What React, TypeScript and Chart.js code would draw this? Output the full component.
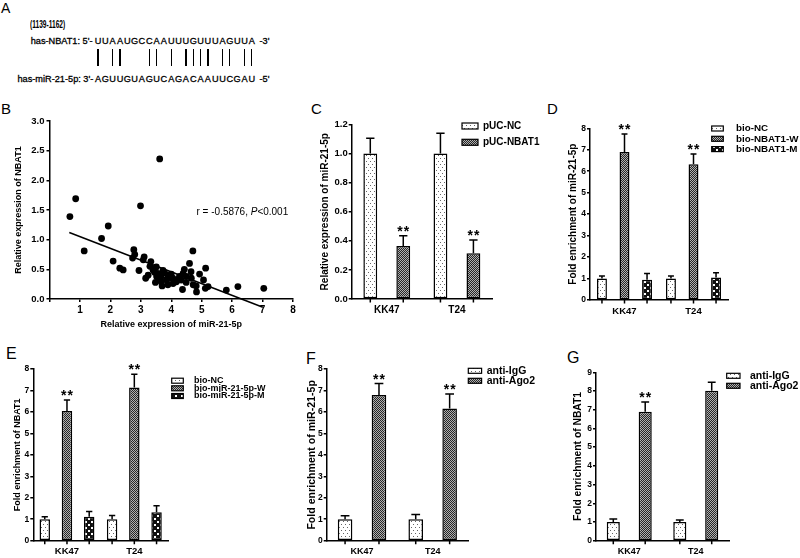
import React, { useEffect, useRef } from 'react';
import { Chart, registerables } from 'chart.js';
Chart.register(...registerables);

const FONT = '"Liberation Sans", Arial, Helvetica, sans-serif';

// ---------- Panel A (sequence pairing) ----------
const seqRange = '(1139-1162)';
const nbatName = "has-NBAT1: 5'-";
const nbatSeq = 'UUAAUGCCAAUUUGUUUAGUUA';
const nbatEnd = "-3'";
const mirName = "has-miR-21-5p: 3'-";
const mirSeq = 'AGUUGUAGUCAGACAAUUCGAU';
const mirEnd = "-5'";

// ---------- Panel B (correlation scatter) ----------
const scatterX = [0.67, 0.86, 1.14, 1.71, 1.93, 2.09, 2.31, 2.42, 2.99, 2.94, 3.62, 2.77, 2.8, 2.73, 3.11, 3.08, 3.33, 3.16, 3.24, 3.4, 3.51, 3.45, 3.56, 3.6, 3.67, 3.67, 3.73, 3.78, 3.84, 3.9, 3.89, 3.95, 4.05, 4.06, 4.16, 4.17, 4.27, 4.33, 4.39, 4.43, 4.37, 4.49, 4.5, 4.6, 4.71, 4.65, 4.66, 4.72, 4.83, 4.82, 4.93, 5.06, 5.13, 5.12, 5.21, 5.81, 6.19, 7.04, 3.3, 3.52, 3.7, 4.0, 3.48];
const scatterY = [1.39, 1.69, 0.81, 1.02, 1.23, 0.64, 0.52, 0.49, 1.57, 0.48, 2.36, 0.83, 0.75, 0.69, 0.71, 0.66, 0.63, 0.35, 0.4, 0.49, 0.54, 0.45, 0.43, 0.33, 0.38, 0.29, 0.48, 0.44, 0.32, 0.4, 0.24, 0.35, 0.35, 0.26, 0.32, 0.29, 0.38, 0.32, 0.43, 0.5, 0.16, 0.28, 0.38, 0.6, 0.81, 0.46, 0.35, 0.24, 0.12, 0.22, 0.42, 0.32, 0.52, 0.18, 0.21, 0.15, 0.21, 0.18, 0.55, 0.38, 0.22, 0.42, 0.28];
const fitX = [0.65, 7.01];
const fitY = [1.12, -0.14];
const corrParts = ['r = -0.5876, ', 'P', '<0.001'];
const corrAt = [4.83, 1.47];
const bXTitle = 'Relative expression of miR-21-5p';
const bYTitle = 'Relative expression of NBAT1';

// ---------- shared categories ----------
const cells = ['KK47', 'T24'];

// ---------- Panel C ----------
const cNames = ['pUC-NC', 'pUC-NBAT1'];
const cNC = [1.0, 1.0];
const cNCErr = [0.105, 0.14];
const cNBAT1 = [0.365, 0.315];
const cNBAT1Err = [0.07, 0.09];
const cNBAT1Sig = ['**', '**'];

// ---------- Panel D ----------
const dNames = ['bio-NC', 'bio-NBAT1-W', 'bio-NBAT1-M'];
const dNC = [1.0, 1.0];
const dNCErr = [0.12, 0.12];
const dW = [6.9, 6.33];
const dWErr = [0.83, 0.47];
const dM = [0.94, 1.05];
const dMErr = [0.29, 0.22];
const dWSig = ['**', '**'];

// ---------- Panel E ----------
const eNames = ['bio-NC', 'bio-miR-21-5p-W', 'bio-miR-21-5p-M'];
const eNC = [1.0, 1.0];
const eNCErr = [0.12, 0.17];
const eW = [6.04, 7.14];
const eWErr = [0.51, 0.61];
const eM = [1.12, 1.32];
const eMErr = [0.24, 0.31];
const eWSig = ['**', '**'];

// ---------- Panel F ----------
const fNames = ['anti-IgG', 'anti-Ago2'];
const fIgG = [1.0, 1.0];
const fIgGErr = [0.16, 0.22];
const fAgo = [6.79, 6.16];
const fAgoErr = [0.53, 0.68];
const fAgoSig = ['**', '**'];

// ---------- Panel G ----------
const gNames = ['anti-IgG', 'anti-Ago2'];
const gIgG = [1.0, 1.0];
const gIgGErr = [0.16, 0.11];
const gAgo = [6.89, 8.02];
const gAgoErr = [0.52, 0.45];
const gAgoSig = ['**', ''];

const none = ['', ''];

// ---------- patterns ----------
function makePattern(kind: string): any {
  const c = document.createElement('canvas');
  const x = c.getContext('2d')!;
  if (kind === 'dots') {
    c.width = 8; c.height = 6;
    x.fillStyle = '#fff'; x.fillRect(0, 0, 8, 6);
    x.fillStyle = '#666';
    x.fillRect(1, 1, 1, 1); x.fillRect(5, 1, 1, 1); x.fillRect(3, 4, 1, 1); x.fillRect(7, 4, 1, 1);
  } else if (kind === 'mesh') {
    c.width = 2; c.height = 2;
    x.fillStyle = '#b0b0b0'; x.fillRect(0, 0, 2, 2);
    x.fillStyle = '#262626'; x.fillRect(0, 0, 1, 1); x.fillRect(1, 1, 1, 1);
  } else {
    c.width = 6; c.height = 6;
    x.fillStyle = '#111'; x.fillRect(0, 0, 6, 6);
    x.fillStyle = '#fff'; x.fillRect(1, 1, 2, 2); x.fillRect(4, 4, 2, 2);
  }
  return x.createPattern(c, 'repeat');
}

// ---------- geometry helper ----------
type Geo = { cx: number; cy: number; cw: number; ch: number; L: number; R: number; T: number; B: number; titleX: number; titleSize: number; xH: number };
function layoutFor(g: Geo) {
  const lh = g.titleSize * 1.2;
  const scaleLeft = g.titleX - lh / 2;
  return {
    yW: g.L - scaleLeft,
    padding: { left: scaleLeft - g.cx, top: g.T - g.cy, right: g.cx + g.cw - g.R, bottom: g.cy + g.ch - g.B - g.xH },
  };
}

// ---------- plugins ----------
function errorBarPlugin(sigSize: number, capFrac: number) {
  return {
    id: 'errorBars',
    afterDatasetsDraw(chart: any) {
      const ctx = chart.ctx;
      const ys = chart.scales.y;
      const base = ys.getPixelForValue(0);
      chart.data.datasets.forEach((ds: any, di: number) => {
        const meta = chart.getDatasetMeta(di);
        meta.data.forEach((bar: any, i: number) => {
          const top = ys.getPixelForValue(ds.data[i] + ds.errors[i]);
          const cap = (bar.width * capFrac) / 2;
          ctx.save();
          ctx.strokeStyle = '#000';
          ctx.lineWidth = 1.5;
          ctx.beginPath();
          ctx.moveTo(bar.x, bar.y);
          ctx.lineTo(bar.x, top);
          ctx.moveTo(bar.x - cap, top);
          ctx.lineTo(bar.x + cap, top);
          ctx.moveTo(bar.x, base);
          ctx.lineTo(bar.x, base + 3.5);
          ctx.stroke();
          if (ds.sig && ds.sig[i]) {
            ctx.fillStyle = '#000';
            ctx.font = `bold ${sigSize}px ${FONT}`;
            ctx.textAlign = 'center';
            ctx.textBaseline = 'alphabetic';
            try { (ctx as any).letterSpacing = '1px'; } catch (e) {}
            ctx.fillText(ds.sig[i], bar.x + 0.5, top);
          }
          ctx.restore();
        });
      });
    },
  };
}

type LegendSpec = { boxX: number; boxW: number; boxH: number; textX: number; rows: number[]; size: number };
function legendPlugin(spec: LegendSpec, ox: number, oy: number) {
  return {
    id: 'patternLegend',
    afterDraw(chart: any) {
      const ctx = chart.ctx;
      chart.data.datasets.forEach((ds: any, i: number) => {
        const cy = spec.rows[i] - oy;
        const bx = spec.boxX - ox;
        ctx.save();
        ctx.fillStyle = ds.backgroundColor;
        ctx.fillRect(bx, cy - spec.boxH / 2, spec.boxW, spec.boxH);
        ctx.strokeStyle = '#000';
        ctx.lineWidth = 1.2;
        ctx.strokeRect(bx, cy - spec.boxH / 2, spec.boxW, spec.boxH);
        ctx.fillStyle = '#000';
        ctx.font = `bold ${spec.size}px ${FONT}`;
        ctx.textAlign = 'left';
        ctx.textBaseline = 'middle';
        ctx.fillText(ds.label, spec.textX - ox, cy);
        ctx.restore();
      });
    },
  };
}

const corrPlugin = {
  id: 'corrText',
  afterDraw(chart: any) {
    const ctx = chart.ctx;
    let x = chart.scales.x.getPixelForValue(corrAt[0]);
    const y = chart.scales.y.getPixelForValue(corrAt[1]);
    ctx.save();
    ctx.fillStyle = '#000';
    ctx.textAlign = 'left';
    ctx.textBaseline = 'middle';
    corrParts.forEach((t, i) => {
      ctx.font = `${i === 1 ? 'italic ' : ''}10px ${FONT}`;
      ctx.fillText(t, x, y);
      x += ctx.measureText(t).width;
    });
    ctx.restore();
  },
};

// ---------- configs ----------
type Series = { name: string; mean: number[]; err: number[]; sig: string[]; fill: string };
type BarSpec = {
  geo: Geo; series: Series[]; yMax: number; yStep: number; decimals: number; yTitle: string;
  tickSize: number; tickPad: number; xSize: number; cp: number; bp: number; legend: LegendSpec; sigSize: number;
};

function yAxis(title: string, titleSize: number, tickSize: number, tickPad: number, max: number, step: number, decimals: number, yW: number) {
  return {
    type: 'linear',
    min: 0,
    max,
    ticks: {
      stepSize: step,
      color: '#000',
      padding: tickPad,
      font: { family: FONT, size: tickSize, weight: 'bold' },
      callback: (v: any) => Number(v).toFixed(decimals),
    },
    grid: { drawOnChartArea: false, drawTicks: true, tickLength: 3, color: '#000', lineWidth: 1.5 },
    border: { color: '#000', width: 1.5 },
    title: { display: true, text: title, color: '#000', padding: 0, font: { family: FONT, size: titleSize, weight: 'bold' } },
    afterFit: (s: any) => { s.width = yW; },
  };
}

function makeBar(spec: BarSpec) {
  const g = spec.geo;
  const lay = layoutFor(g);
  const xLh = spec.xSize * 1.2;
  return {
    type: 'bar',
    data: {
      labels: cells,
      datasets: spec.series.map((s) => ({
        label: s.name,
        data: s.mean,
        errors: s.err,
        sig: s.sig,
        backgroundColor: makePattern(s.fill),
        borderColor: '#000',
        borderWidth: 1.5,
        borderSkipped: false,
        categoryPercentage: spec.cp,
        barPercentage: spec.bp,
      })),
    },
    options: {
      responsive: false,
      animation: false,
      devicePixelRatio: 1,
      layout: { padding: lay.padding },
      plugins: { legend: { display: false }, tooltip: { enabled: false } },
      scales: {
        x: {
          type: 'category',
          offset: true,
          grid: { display: true, drawOnChartArea: false, drawTicks: false },
          border: { display: true, color: '#000', width: 1.5 },
          ticks: { color: '#000', padding: 11 - xLh / 2, maxRotation: 0, font: { family: FONT, size: spec.xSize, weight: 'bold' } },
          afterFit: (s: any) => { s.height = g.xH; },
        },
        y: yAxis(spec.yTitle, g.titleSize, spec.tickSize, spec.tickPad, spec.yMax, spec.yStep, spec.decimals, lay.yW),
      },
    },
    plugins: [errorBarPlugin(spec.sigSize, 0.6), legendPlugin(spec.legend, g.cx, g.cy)],
  };
}

const geoB: Geo = { cx: 0, cy: 100, cw: 305, ch: 235, L: 49.5, R: 293, T: 121, B: 299, titleX: 19, titleSize: 9, xH: 31.4 };

function makeScatter() {
  const g = geoB;
  const lay = layoutFor(g);
  return {
    type: 'scatter',
    data: {
      datasets: [
        {
          label: 'fit',
          data: fitX.map((x, i) => ({ x, y: fitY[i] })),
          showLine: true,
          borderColor: '#000',
          borderWidth: 1.5,
          pointRadius: 0,
          clip: false,
        },
        {
          label: 'samples',
          data: scatterX.map((x, i) => ({ x, y: scatterY[i] })),
          pointRadius: 3.4,
          backgroundColor: '#000',
          borderColor: '#000',
          pointBorderWidth: 0,
        },
      ],
    },
    options: {
      responsive: false,
      animation: false,
      devicePixelRatio: 1,
      layout: { padding: lay.padding },
      plugins: { legend: { display: false }, tooltip: { enabled: false } },
      scales: {
        x: {
          type: 'linear',
          min: 0,
          max: 8,
          ticks: {
            stepSize: 1,
            color: '#000',
            padding: 2.5,
            font: { family: FONT, size: 10, weight: 'bold' },
            callback: (v: any) => (Number(v) === 0 ? '' : String(v)),
          },
          grid: { drawOnChartArea: false, drawTicks: true, tickLength: 3, color: '#000', lineWidth: 1.5 },
          border: { color: '#000', width: 1.5 },
          title: { display: true, text: bXTitle, color: '#000', padding: 0, font: { family: FONT, size: 9, weight: 'bold' } },
          afterFit: (s: any) => { s.height = g.xH; },
        },
        y: yAxis(bYTitle, 9, 9.5, 2, 3, 0.5, 1, lay.yW),
      },
    },
    plugins: [corrPlugin],
  };
}

const specC: BarSpec = {
  geo: { cx: 305, cy: 100, cw: 245, ch: 222, L: 351.7, R: 492, T: 124.5, B: 299, titleX: 325, titleSize: 10, xH: 22 },
  series: [
    { name: cNames[0], mean: cNC, err: cNCErr, sig: none, fill: 'dots' },
    { name: cNames[1], mean: cNBAT1, err: cNBAT1Err, sig: cNBAT1Sig, fill: 'mesh' },
  ],
  yMax: 1.2, yStep: 0.2, decimals: 1, yTitle: 'Relative expression of miR-21-5p',
  tickSize: 9.5, tickPad: 1, xSize: 10, cp: 0.94, bp: 0.42, sigSize: 14,
  legend: { boxX: 462, boxW: 16, boxH: 6, textX: 483, rows: [126, 142.3], size: 10 },
};

const specD: BarSpec = {
  geo: { cx: 553, cy: 100, cw: 247, ch: 222, L: 590, R: 728, T: 128.3, B: 300, titleX: 573, titleSize: 10, xH: 22 },
  series: [
    { name: dNames[0], mean: dNC, err: dNCErr, sig: none, fill: 'dots' },
    { name: dNames[1], mean: dW, err: dWErr, sig: dWSig, fill: 'mesh' },
    { name: dNames[2], mean: dM, err: dMErr, sig: none, fill: 'checker' },
  ],
  yMax: 8, yStep: 1, decimals: 0, yTitle: 'Fold enrichment of miR-21-5p',
  tickSize: 8.5, tickPad: 1, xSize: 9.5, cp: 0.98, bp: 0.44, sigSize: 14,
  legend: { boxX: 711.7, boxW: 11.6, boxH: 5, textX: 736, rows: [128.5, 138.8, 149.1], size: 9.8 },
};

const specE: BarSpec = {
  geo: { cx: 0, cy: 340, cw: 290, ch: 218, L: 33.3, R: 168, T: 369, B: 540.7, titleX: 18, titleSize: 9, xH: 17.3 },
  series: [
    { name: eNames[0], mean: eNC, err: eNCErr, sig: none, fill: 'dots' },
    { name: eNames[1], mean: eW, err: eWErr, sig: eWSig, fill: 'mesh' },
    { name: eNames[2], mean: eM, err: eMErr, sig: none, fill: 'checker' },
  ],
  yMax: 8, yStep: 1, decimals: 0, yTitle: 'Fold enrichment of NBAT1',
  tickSize: 8.5, tickPad: 1, xSize: 9.5, cp: 0.99, bp: 0.47, sigSize: 14,
  legend: { boxX: 171.7, boxW: 11.6, boxH: 5, textX: 194, rows: [380.7, 388.3, 396], size: 9 },
};

const specF: BarSpec = {
  geo: { cx: 290, cy: 340, cw: 265, ch: 218, L: 326.7, R: 468, T: 369, B: 540.7, titleX: 312.5, titleSize: 10.6, xH: 17.3 },
  series: [
    { name: fNames[0], mean: fIgG, err: fIgGErr, sig: none, fill: 'dots' },
    { name: fNames[1], mean: fAgo, err: fAgoErr, sig: fAgoSig, fill: 'mesh' },
  ],
  yMax: 8, yStep: 1, decimals: 0, yTitle: 'Fold enrichment of miR-21-5p',
  tickSize: 8.5, tickPad: 1, xSize: 9, cp: 0.96, bp: 0.43, sigSize: 14,
  legend: { boxX: 468.3, boxW: 13.3, boxH: 5, textX: 486.7, rows: [370.8, 380.8], size: 10.5 },
};

const specG: BarSpec = {
  geo: { cx: 555, cy: 340, cw: 245, ch: 218, L: 596, R: 729, T: 372.3, B: 540.7, titleX: 578, titleSize: 10.3, xH: 17.3 },
  series: [
    { name: gNames[0], mean: gIgG, err: gIgGErr, sig: none, fill: 'dots' },
    { name: gNames[1], mean: gAgo, err: gAgoErr, sig: gAgoSig, fill: 'mesh' },
  ],
  yMax: 9, yStep: 1, decimals: 0, yTitle: 'Fold enrichment of NBAT1',
  tickSize: 8.5, tickPad: 1, xSize: 9, cp: 0.96, bp: 0.41, sigSize: 14,
  legend: { boxX: 726.7, boxW: 13.3, boxH: 5, textX: 750, rows: [375.8, 385.8], size: 10.5 },
};

// ---------- components ----------
function ChartBox({ geo, make }: { geo: Geo; make: () => any }) {
  const ref = useRef<HTMLCanvasElement>(null);
  useEffect(() => {
    const chart = new Chart(ref.current as any, make());
    return () => chart.destroy();
  }, []);
  return (
    <canvas
      ref={ref}
      width={geo.cw}
      height={geo.ch}
      style={{ position: 'absolute', left: geo.cx, top: geo.cy, width: geo.cw, height: geo.ch }}
    />
  );
}

const CELL = 7.33;
const SEQ_LEFT = 94.3;
const isPair = (a: string, b: string) =>
  (a === 'A' && b === 'U') || (a === 'U' && b === 'A') || (a === 'G' && b === 'C') || (a === 'C' && b === 'G');

const seqText: any = { position: 'absolute', fontSize: 9.2, lineHeight: '9px', whiteSpace: 'nowrap', WebkitTextStroke: '0.3px #000' };

function SeqCells({ seq, top }: { seq: string; top: number }) {
  return (
    <div style={{ ...seqText, left: SEQ_LEFT, top, display: 'flex' }}>
      {seq.split('').map((c, i) => (
        <span key={i} style={{ width: CELL, textAlign: 'center', display: 'inline-block' }}>{c}</span>
      ))}
    </div>
  );
}

function PanelA() {
  return (
    <>
      <div style={{ ...seqText, left: 30, top: 20, fontSize: 10, lineHeight: '10px', fontWeight: 'bold', WebkitTextStroke: '0px', transform: 'scaleX(0.66)', transformOrigin: 'left top' }}>{seqRange}</div>
      <div style={{ ...seqText, left: 0, width: 92.5, textAlign: 'right', top: 37.3 }}>{nbatName}</div>
      <SeqCells seq={nbatSeq} top={37.3} />
      <div style={{ ...seqText, left: SEQ_LEFT + CELL * nbatSeq.length + 4, top: 37.3 }}>{nbatEnd}</div>
      {nbatSeq.split('').map((c, i) =>
        isPair(c, mirSeq[i]) ? (
          <div key={i} style={{ position: 'absolute', left: SEQ_LEFT + (i + 0.5) * CELL - 0.6, top: 49, width: 1.2, height: 17, background: '#000' }} />
        ) : null
      )}
      <div style={{ ...seqText, left: 0, width: 93.3, textAlign: 'right', top: 74.6 }}>{mirName}</div>
      <SeqCells seq={mirSeq} top={74.6} />
      <div style={{ ...seqText, left: SEQ_LEFT + CELL * mirSeq.length + 4, top: 74.6 }}>{mirEnd}</div>
    </>
  );
}

const panelLetters = [
  { t: 'A', x: 1, y: 1, s: 14 },
  { t: 'B', x: 1, y: 101, s: 15 },
  { t: 'C', x: 311, y: 101, s: 15 },
  { t: 'D', x: 547, y: 101, s: 15 },
  { t: 'E', x: 6, y: 346, s: 16 },
  { t: 'F', x: 306, y: 351, s: 16 },
  { t: 'G', x: 567, y: 350, s: 16 },
];

export default function App() {
  return (
    <div style={{ position: 'fixed', left: 0, top: 0, width: 800, height: 558, background: '#fff', overflow: 'hidden', fontFamily: FONT, color: '#000' }}>
      <PanelA />
      {panelLetters.map((l) => (
        <div key={l.t} style={{ position: 'absolute', left: l.x, top: l.y, fontSize: l.s, lineHeight: `${l.s}px` }}>{l.t}</div>
      ))}
      <ChartBox geo={geoB} make={makeScatter} />
      <ChartBox geo={specC.geo} make={() => makeBar(specC)} />
      <ChartBox geo={specD.geo} make={() => makeBar(specD)} />
      <ChartBox geo={specE.geo} make={() => makeBar(specE)} />
      <ChartBox geo={specF.geo} make={() => makeBar(specF)} />
      <ChartBox geo={specG.geo} make={() => makeBar(specG)} />
    </div>
  );
}
